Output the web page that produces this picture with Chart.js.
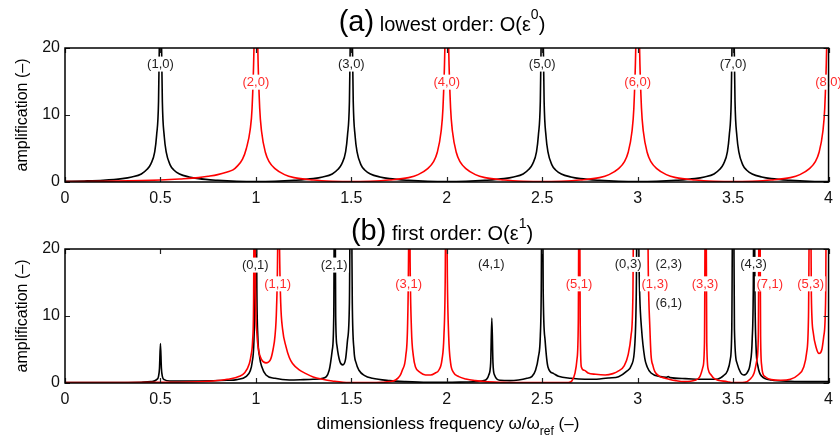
<!DOCTYPE html>
<html>
<head>
<meta charset="utf-8">
<script src="https://cdn.jsdelivr.net/npm/chart.js@4.4.0/dist/chart.umd.min.js"></script>
<style>
body { margin: 0; background: #fff; }
canvas { position: absolute; left: 0; }
#top { top: 0; }
#bot { top: 210px; }
</style>
</head>
<body>
<canvas id="top" width="840" height="210"></canvas>
<canvas id="bot" width="840" height="230"></canvas>
<script>
// [frequency, amplification]
const topBlack = [
  [0,0.1],[0.1,0.15],[0.2,0.25],[0.3,0.5],[0.35,0.75],[0.4,1.2],[0.43,1.9],[0.45,2.7],[0.47,4.5],[0.48,7],[0.49,12],[0.495,22],[0.5,40],
  [0.505,22],[0.51,12],[0.52,6.8],[0.53,4.5],[0.55,2.6],[0.57,1.8],[0.6,1.2],[0.65,0.75],[0.7,0.5],[0.8,0.25],[0.9,0.1],[1.0,0.05],
  [1.1,0.1],[1.2,0.25],[1.3,0.5],[1.35,0.75],[1.4,1.2],[1.43,1.9],[1.45,2.7],[1.47,4.5],[1.48,7],[1.49,12],[1.495,22],[1.5,40],
  [1.505,22],[1.51,12],[1.52,6.8],[1.53,4.5],[1.55,2.6],[1.57,1.8],[1.6,1.2],[1.65,0.75],[1.7,0.5],[1.8,0.25],[1.9,0.1],[2.0,0.05],
  [2.1,0.1],[2.2,0.25],[2.3,0.5],[2.35,0.75],[2.4,1.2],[2.43,1.9],[2.45,2.7],[2.47,4.5],[2.48,7],[2.49,12],[2.495,22],[2.5,40],
  [2.505,22],[2.51,12],[2.52,6.8],[2.53,4.5],[2.55,2.6],[2.57,1.8],[2.6,1.2],[2.65,0.75],[2.7,0.5],[2.8,0.25],[2.9,0.1],[3.0,0.05],
  [3.1,0.1],[3.2,0.25],[3.3,0.5],[3.35,0.75],[3.4,1.2],[3.43,1.9],[3.45,2.7],[3.47,4.5],[3.48,7],[3.49,12],[3.495,22],[3.5,40],
  [3.505,22],[3.51,12],[3.52,6.8],[3.53,4.5],[3.55,2.6],[3.57,1.8],[3.6,1.2],[3.65,0.75],[3.7,0.5],[3.8,0.25],[3.9,0.1],[4.0,0.05]
];
const topRed = [
  [0,0.05],[0.2,0.1],[0.4,0.2],[0.5,0.3],[0.6,0.45],[0.7,0.65],[0.75,0.85],[0.8,1.1],[0.85,1.5],[0.88,1.8],[0.9,2.3],[0.93,3.4],[0.95,5],[0.97,7.8],[0.98,11],[0.99,20],[0.995,30],[1.0,40],
  [1.005,30],[1.01,20],[1.02,11],[1.03,7.5],[1.05,4.4],[1.07,3.0],[1.1,2.0],[1.15,1.1],[1.2,0.65],[1.3,0.3],[1.4,0.12],[1.5,0.05],
  [1.6,0.12],[1.7,0.3],[1.8,0.65],[1.85,1.1],[1.9,2.0],[1.93,3.0],[1.95,4.4],[1.97,7.5],[1.98,11],[1.99,20],[1.995,30],[2.0,40],
  [2.005,30],[2.01,20],[2.02,11],[2.03,7.5],[2.05,4.4],[2.07,3.0],[2.1,2.0],[2.15,1.1],[2.2,0.65],[2.3,0.3],[2.4,0.12],[2.5,0.05],
  [2.6,0.12],[2.7,0.3],[2.8,0.65],[2.85,1.1],[2.9,2.0],[2.93,3.0],[2.95,4.4],[2.97,7.5],[2.98,11],[2.99,20],[2.995,30],[3.0,40],
  [3.005,30],[3.01,20],[3.02,11],[3.03,7.5],[3.05,4.4],[3.07,3.0],[3.1,2.0],[3.15,1.1],[3.2,0.65],[3.3,0.3],[3.4,0.12],[3.5,0.05],
  [3.6,0.12],[3.7,0.3],[3.8,0.65],[3.85,1.1],[3.9,2.0],[3.93,3.0],[3.95,4.4],[3.97,7.5],[3.98,11],[3.99,20],[3.995,30],[4.0,40]
];
const botBlack = [
  [0,0.05],[0.2,0.07],[0.4,0.12],[0.45,0.2],[0.48,0.5],[0.49,1.0],[0.495,2.2],[0.5,5.9],[0.505,2.2],[0.51,1.0],[0.52,0.5],[0.55,0.3],
  [0.7,0.3],[0.85,0.4],[0.9,0.5],[0.95,1.0],[0.97,1.8],[0.98,3.0],[0.99,6.5],[0.995,14],[1.0,40],[1.005,14],[1.01,7],[1.02,3.8],[1.03,2.5],
  [1.053,1.2],[1.1,0.7],[1.175,0.45],[1.25,0.5],[1.3,0.55],[1.35,0.7],[1.384,1.9],[1.4,4.9],[1.408,10],[1.413,40],[1.418,10],[1.425,5.5],
  [1.44,3.2],[1.455,2.7],[1.47,3.6],[1.48,6.4],[1.49,12],[1.497,40],[1.505,12],[1.514,4.9],[1.525,3.0],[1.54,1.9],[1.57,1.1],[1.61,0.7],
  [1.7,0.35],[1.784,0.2],[1.9,0.1],[2.0,0.1],[2.1,0.15],[2.2,0.4],[2.22,1.2],[2.23,3.0],[2.236,9.7],[2.242,3.0],[2.25,1.2],[2.28,0.4],
  [2.33,0.35],[2.376,0.45],[2.42,0.7],[2.445,0.95],[2.465,1.9],[2.48,3.9],[2.49,7],[2.495,14],[2.5,40],[2.505,14],[2.515,6.4],[2.53,2.4],
  [2.56,1.4],[2.585,1.0],[2.65,0.7],[2.724,0.55],[2.8,0.6],[2.85,0.75],[2.9,0.95],[2.94,1.7],[2.968,2.7],[2.985,5.7],[2.993,14],[3.0,40],
  [3.006,20],[3.011,13],[3.02,8.2],[3.037,3.7],[3.05,2.4],[3.07,1.5],[3.12,0.95],[3.15,0.85],[3.16,0.95],[3.17,0.8],[3.25,0.65],[3.35,0.55],
  [3.42,0.6],[3.45,1.1],[3.47,1.8],[3.485,3.5],[3.493,8],[3.5,40],[3.507,8],[3.52,3.0],[3.54,1.5],[3.555,1.2],[3.575,1.6],[3.59,3.0],
  [3.6,6.5],[3.606,15],[3.61,40],[3.614,15],[3.62,5.5],[3.63,2.5],[3.65,1.0],[3.7,0.45],[3.8,0.25],[3.9,0.2],[4.0,0.2]
];
const botRed = [
  [0,0.05],[0.3,0.07],[0.5,0.1],[0.65,0.15],[0.775,0.3],[0.85,0.55],[0.914,1.0],[0.94,1.5],[0.966,2.9],[0.975,4.2],[0.983,6.4],[0.988,12],
  [0.993,40],[0.998,14],[1.005,7.5],[1.015,4.8],[1.03,3.5],[1.053,3.0],[1.075,3.4],[1.09,5],[1.1,7],[1.108,11],[1.114,20],[1.118,40],
  [1.124,20],[1.13,12],[1.14,8],[1.158,5.4],[1.175,3.8],[1.192,2.9],[1.225,2.0],[1.262,1.4],[1.3,0.9],[1.349,0.55],[1.4,0.3],[1.488,0.05],
  [1.6,0.05],[1.66,0.1],[1.7,0.2],[1.732,0.45],[1.755,1.1],[1.767,1.9],[1.785,4],[1.795,9],[1.8,20],[1.803,40],[1.808,18],[1.815,8],
  [1.825,4],[1.836,2.4],[1.86,1.6],[1.889,1.2],[1.915,1.2],[1.94,1.5],[1.958,1.9],[1.975,3.5],[1.985,7],[1.992,16],[1.997,40],[2.003,16],
  [2.01,7],[2.02,3],[2.035,1.6],[2.063,0.95],[2.1,0.6],[2.15,0.35],[2.2,0.2],[2.3,0.1],[2.376,0.05],[2.5,0.05],[2.637,0.08],[2.655,0.3],
  [2.672,1.5],[2.682,3.5],[2.689,9],[2.694,40],[2.699,9],[2.705,2.4],[2.72,1.9],[2.74,1.5],[2.78,1.3],[2.83,1.2],[2.87,1.4],[2.9,1.8],
  [2.93,2.6],[2.95,4.2],[2.965,7],[2.975,13],[2.982,40],[3.0,30],[3.015,25],[3.03,30],[3.048,40],[3.056,16],[3.064,8.2],[3.07,4.2],
  [3.08,2.6],[3.09,1.7],[3.115,1.0],[3.14,0.75],[3.16,0.6],[3.2,0.35],[3.246,0.2],[3.3,0.4],[3.325,0.9],[3.342,2.4],[3.35,6],[3.356,40],
  [3.362,6],[3.37,2],[3.385,1.2],[3.4,0.7],[3.47,0.2],[3.5,0.05],[3.56,0.1],[3.59,0.6],[3.61,1.5],[3.625,3.5],[3.632,7],[3.638,40],
  [3.644,7],[3.65,2.5],[3.655,1.5],[3.67,0.9],[3.7,0.5],[3.75,0.4],[3.8,0.55],[3.84,1.2],[3.87,2.4],[3.885,4.5],[3.895,10],[3.903,40],
  [3.91,13],[3.92,7.5],[3.935,5.3],[3.95,4.4],[3.965,5],[3.975,7],[3.985,13],[3.99,40],[4.0,40]
];

// mode labels: text, x, y, colour
const K = '#222', R = '#ff2a2a';
const topLabels = [
  ['(1,0)',0.5,17.6,K],['(2,0)',1,14.9,R],['(3,0)',1.5,17.6,K],['(4,0)',2,14.9,R],
  ['(5,0)',2.5,17.6,K],['(6,0)',3,14.9,R],['(7,0)',3.5,17.6,K],['(8,0)',4,14.9,R]
];
const botLabels = [
  ['(0,1)',0.997,17.6,K],['(1,1)',1.114,14.8,R],['(2,1)',1.41,17.6,K],['(3,1)',1.8,14.8,R],
  ['(4,1)',2.233,17.7,K],['(5,1)',2.693,14.8,R],['(0,3)',2.95,17.7,K],['(2,3)',3.163,17.7,K],
  ['(1,3)',3.09,14.8,R],['(6,1)',3.163,11.9,K],['(3,3)',3.353,14.8,R],['(4,3)',3.607,17.7,K],
  ['(7,1)',3.692,14.8,R],['(5,3)',3.906,14.8,R]
];
const xTicks = [0,0.5,1,1.5,2,2.5,3,3.5,4];
const yTicks = [0,10,20];

const FONT = '"Liberation Sans", Arial, Helvetica, sans-serif';

function pts(arr) { return arr.map(p => ({x: p[0], y: p[1]})); }

function makePlugin(labels, title, withXTitle) {
  return {
    id: 'deco',
    afterDatasetsDraw(chart) {
      const ctx = chart.ctx, a = chart.chartArea;
      const xs = chart.scales.x, ys = chart.scales.y;
      ctx.save();
      ctx.font = '13px ' + FONT;
      ctx.textAlign = 'center';
      ctx.textBaseline = 'middle';
      labels.forEach(l => {
        const px = xs.getPixelForValue(l[1]), py = ys.getPixelForValue(l[2]);
        const w = ctx.measureText(l[0]).width;
        ctx.fillStyle = '#fff';
        ctx.fillRect(px - w / 2 - 1.5, py - 7.5, w + 3, 15);
        ctx.fillStyle = l[3];
        ctx.fillText(l[0], px, py + 0.5);
      });
      // inward ticks on all four sides
      ctx.strokeStyle = '#222';
      ctx.lineWidth = 1.2;
      ctx.beginPath();
      xTicks.forEach(v => {
        const px = Math.round(xs.getPixelForValue(v)) + 0.5;
        ctx.moveTo(px, a.bottom); ctx.lineTo(px, a.bottom - 5);
        ctx.moveTo(px, a.top); ctx.lineTo(px, a.top + 5);
      });
      yTicks.forEach(v => {
        const py = Math.round(ys.getPixelForValue(v)) + 0.5;
        ctx.moveTo(a.left, py); ctx.lineTo(a.left + 5, py);
        ctx.moveTo(a.right, py); ctx.lineTo(a.right - 5, py);
      });
      ctx.stroke();
      ctx.strokeStyle = '#000';
      ctx.lineWidth = 1.5;
      ctx.strokeRect(a.left, a.top, a.right - a.left, a.bottom - a.top);

      // title  "(a) lowest order: O(e^0)"
      const cx = 442, by = title.y;
      ctx.fillStyle = '#000';
      ctx.textAlign = 'left';
      ctx.textBaseline = 'alphabetic';
      const parts = [
        [title.tag, '29px ', 0], [' ' + title.text, '20px ', 0], [title.sup, '14px ', -12], [')', '20px ', 0]
      ];
      let total = 0;
      parts.forEach(p => { ctx.font = p[1] + FONT; total += ctx.measureText(p[0]).width; });
      let x = cx - total / 2;
      parts.forEach(p => {
        ctx.font = p[1] + FONT;
        ctx.fillText(p[0], x, by + p[2]);
        x += ctx.measureText(p[0]).width;
      });

      // y axis title
      ctx.save();
      ctx.font = '16px ' + FONT;
      ctx.textAlign = 'center';
      ctx.textBaseline = 'middle';
      ctx.translate(23, (a.top + a.bottom) / 2);
      ctx.rotate(-Math.PI / 2);
      ctx.fillText('amplification (\u2013)', 0, 0);
      ctx.restore();

      if (withXTitle) {
        const xp = [['dimensionless frequency \u03c9/\u03c9', '17px ', 0], ['ref', '12px ', 6], [' (\u2013)', '17px ', 0]];
        let tw = 0;
        xp.forEach(p => { ctx.font = p[1] + FONT; tw += ctx.measureText(p[0]).width; });
        let xx = 448 - tw / 2;
        xp.forEach(p => {
          ctx.font = p[1] + FONT;
          ctx.fillText(p[0], xx, 219 + p[2]);
          xx += ctx.measureText(p[0]).width;
        });
      }
      ctx.restore();
    }
  };
}

function makeChart(id, black, red, labels, title, topPad, xHeight, withXTitle) {
  return new Chart(document.getElementById(id), {
    type: 'line',
    data: {
      datasets: [
        { data: pts(red), borderColor: 'rgb(255,0,0)', borderWidth: 1.6, pointRadius: 0, cubicInterpolationMode: 'monotone' },
        { data: pts(black), borderColor: '#000', borderWidth: 1.6, pointRadius: 0, cubicInterpolationMode: 'monotone' }
      ]
    },
    options: {
      responsive: false,
      animation: false,
      layout: { padding: { left: 0, right: 9, top: topPad, bottom: 0 } },
      plugins: { legend: { display: false }, tooltip: { enabled: false }, title: { display: false } },
      scales: {
        x: {
          type: 'linear', min: 0, max: 4,
          grid: { display: false, drawTicks: false },
          border: { display: false },
          afterFit: s => { s.height = xHeight; },
          afterBuildTicks: s => { s.ticks = xTicks.map(v => ({ value: v })); },
          ticks: { color: '#111', font: { family: FONT, size: 16 }, padding: 7, autoSkip: false, maxRotation: 0,
                   callback: v => String(v) }
        },
        y: {
          min: 0, max: 20,
          grid: { display: false, drawTicks: false },
          border: { display: false },
          afterFit: s => { s.width = 65; },
          afterBuildTicks: s => { s.ticks = yTicks.map(v => ({ value: v })); },
          ticks: { color: '#111', font: { family: FONT, size: 16 }, padding: 5, callback: v => String(v) }
        }
      }
    },
    plugins: [makePlugin(labels, title, withXTitle)]
  });
}

makeChart('top', topBlack, topRed, topLabels, { tag: '(a)', text: 'lowest order: O(\u03b5', sup: '0', y: 31 }, 48, 28, false);
makeChart('bot', botBlack, botRed, botLabels, { tag: '(b)', text: 'first order: O(\u03b5', sup: '1', y: 30 }, 39, 57, true);
</script>
</body>
</html>
